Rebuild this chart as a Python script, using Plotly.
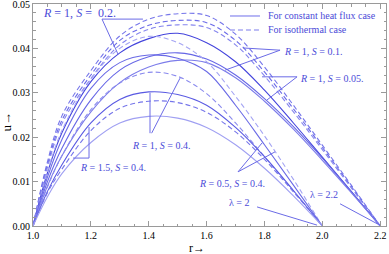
import plotly.graph_objects as go

# ---------------- data ----------------
r_lam22 = [1.0, 1.05, 1.1, 1.2, 1.3, 1.4, 1.5, 1.6, 1.7, 1.8, 1.9, 2.0, 2.1, 2.2]
r_lam20 = [1.0, 1.05, 1.1, 1.2, 1.3, 1.4, 1.5, 1.6, 1.7, 1.8, 1.9, 2.0]

# lambda = 2.2, R = 1
iso_S020 = [0, 0.0145, 0.0248, 0.0350, 0.0428, 0.0466, 0.0478, 0.0474, 0.0432, 0.0358, 0.0272, 0.0182, 0.0092, 0]
iso_S010 = [0, 0.0138, 0.0238, 0.0340, 0.0418, 0.0452, 0.0463, 0.0458, 0.0418, 0.0347, 0.0264, 0.0177, 0.0089, 0]
iso_S005 = [0, 0.0132, 0.0230, 0.0332, 0.0408, 0.0443, 0.0453, 0.0447, 0.0408, 0.0338, 0.0257, 0.0172, 0.0086, 0]
flux_S020 = [0, 0.0120, 0.0210, 0.0325, 0.0390, 0.0422, 0.0434, 0.0413, 0.0370, 0.0306, 0.0232, 0.0155, 0.0078, 0]
flux_S010 = [0, 0.0100, 0.0175, 0.0284, 0.0351, 0.0381, 0.0390, 0.0376, 0.0340, 0.0287, 0.0224, 0.0153, 0.0077, 0]
flux_S005 = [0, 0.0090, 0.0158, 0.0257, 0.0323, 0.0358, 0.0373, 0.0368, 0.0334, 0.0281, 0.0218, 0.0148, 0.0075, 0]

# lambda = 2, S = 0.4
iso_R05 = [0, 0.0122, 0.0215, 0.0330, 0.0400, 0.0427, 0.0413, 0.0370, 0.0292, 0.0203, 0.0105, 0]
flux_R05 = [0, 0.0110, 0.0195, 0.0310, 0.0368, 0.0385, 0.0378, 0.0348, 0.0272, 0.0183, 0.0092, 0]
iso_R10 = [0, 0.0088, 0.0158, 0.0262, 0.0322, 0.0346, 0.0337, 0.0298, 0.0232, 0.0156, 0.0079, 0]
flux_R10 = [0, 0.0078, 0.0138, 0.0232, 0.0285, 0.0302, 0.0296, 0.0272, 0.0222, 0.0156, 0.0080, 0]
iso_R15 = [0, 0.0075, 0.0128, 0.0215, 0.0265, 0.0281, 0.0278, 0.0256, 0.0212, 0.0150, 0.0077, 0]
flux_R15 = [0, 0.0066, 0.0118, 0.0188, 0.0232, 0.0247, 0.0243, 0.0222, 0.0183, 0.0130, 0.0068, 0]

x_ticks = [1.0, 1.2, 1.4, 1.6, 1.8, 2.0, 2.2]
y_ticks = [0.00, 0.01, 0.02, 0.03, 0.04, 0.05]

# ---------------- styling ----------------
SERIF = "Liberation Serif"
TXT = "#4b4bd8"
PTR = "#6b6be6"

series = [
    (r_lam22, iso_S020, "#7676ea", "dash"),
    (r_lam22, iso_S010, "#6a6ae8", "dash"),
    (r_lam22, iso_S005, "#8585ee", "dash"),
    (r_lam22, flux_S020, "#4343dc", "solid"),
    (r_lam22, flux_S010, "#6666e6", "solid"),
    (r_lam22, flux_S005, "#7c7cea", "solid"),
    (r_lam20, iso_R05, "#a4a4f3", "dash"),
    (r_lam20, flux_R05, "#6a6ae6", "solid"),
    (r_lam20, iso_R10, "#8a8aee", "dash"),
    (r_lam20, flux_R10, "#5959e2", "solid"),
    (r_lam20, iso_R15, "#7575ea", "dash"),
    (r_lam20, flux_R15, "#a0a0f2", "solid"),
]

fig = go.Figure()
for xs, ys, col, dash in series:
    fig.add_trace(go.Scatter(
        x=xs, y=ys, mode="lines",
        line=dict(color=col, width=1.1, dash=("5px,3px" if dash == "dash" else "solid"),
                  shape="spline", smoothing=1.0),
        showlegend=False, hoverinfo="skip"))

# pointer lines (data coordinates)
pointers = [
    (1.2385, 0.0466, 1.380, 0.0466),
    (1.2385, 0.0466, 1.2938, 0.0387),
    (1.8538, 0.0396, 1.7259, 0.0401),
    (1.8538, 0.0396, 1.6637, 0.0351),
    (1.9126, 0.0336, 1.7916, 0.0336),
    (1.9126, 0.0336, 1.8089, 0.0284),
    (1.4044, 0.0209, 1.4044, 0.0300),
    (1.4100, 0.0209, 1.5081, 0.0333),
    (1.1936, 0.0223, 1.1936, 0.0153),
    (1.1383, 0.0153, 1.1936, 0.0153),
    (1.7086, 0.0122, 1.7916, 0.0187),
    (1.7086, 0.0122, 1.8365, 0.0167),
    (1.7743, 0.0043, 1.9817, 0.0002),
    (2.0612, 0.0050, 2.1926, 0.0004),
]
for x0, y0, x1, y1 in pointers:
    fig.add_shape(type="line", xref="x", yref="y", x0=x0, y0=y0, x1=x1, y1=y1,
                  line=dict(color=PTR, width=1))

def lab(x, y, text, size=10):
    fig.add_annotation(x=x, y=y, xref="x", yref="y", text=text, showarrow=False,
                       xanchor="left", yanchor="middle",
                       font=dict(family=SERIF, size=size, color=TXT))

lab(1.029, 0.0480, "<i>R</i> = 1, <i>S</i> =  0.2.", 12)
lab(1.8607, 0.0394, "<i>R</i> = 1, <i>S</i> = 0.1.")
lab(1.9160, 0.0333, "<i>R</i> = 1, <i>S</i> = 0.05.")
lab(1.3353, 0.0182, "<i>R</i> = 1, <i>S</i> = 0.4.")
lab(1.1555, 0.0131, "<i>R</i> = 1.5, <i>S</i> = 0.4.")
lab(1.5669, 0.0095, "<i>R</i> = 0.5, <i>S</i> = 0.4.")
lab(1.6706, 0.0052, "λ = 2")
lab(1.9506, 0.0070, "λ = 2.2")

# legend (drawn in paper coordinates)
fig.add_shape(type="line", xref="paper", yref="paper", x0=0.558, x1=0.643, y0=0.946, y1=0.946,
              line=dict(color="#7c7cec", width=1.1))
fig.add_shape(type="line", xref="paper", yref="paper", x0=0.558, x1=0.643, y0=0.883, y1=0.883,
              line=dict(color="#7c7cec", width=1.1, dash="5px,3px"))
fig.add_annotation(xref="paper", yref="paper", x=0.660, y=0.946, text="For constant heat flux case",
                   showarrow=False, xanchor="left", yanchor="middle",
                   font=dict(family=SERIF, size=10, color=TXT))
fig.add_annotation(xref="paper", yref="paper", x=0.660, y=0.883, text="For isothermal case",
                   showarrow=False, xanchor="left", yanchor="middle",
                   font=dict(family=SERIF, size=10, color=TXT))

# axis titles
fig.add_annotation(xref="paper", yref="paper", x=-0.074, y=0.47, text="u→", textangle=-90,
                   showarrow=False, xanchor="center", yanchor="middle",
                   font=dict(family=SERIF, size=13, color="black"))
fig.add_annotation(xref="paper", yref="paper", x=0.466, y=-0.097, text="r→",
                   showarrow=False, xanchor="center", yanchor="middle",
                   font=dict(family=SERIF, size=12, color="black"))

axis_common = dict(showgrid=False, zeroline=False, showline=True, linecolor="#9a9a9a",
                   linewidth=1, mirror="ticks", ticks="inside", ticklen=5, automargin=False,
                   ticklabeloverflow="allow",
                   tickcolor="#9a9a9a", tickfont=dict(family=SERIF, size=10, color="black"))

fig.update_xaxes(range=[1.0, 2.22], tickvals=x_ticks, ticktext=[f"{v:.1f}" for v in x_ticks],
                 minor=dict(dtick=0.05, tick0=1.0, ticks="inside", ticklen=2.5, tickcolor="#9a9a9a"),
                 **axis_common)
fig.update_yaxes(range=[0, 0.05], tickvals=y_ticks, ticktext=[f"{v:.2f}" for v in y_ticks],
                 minor=dict(dtick=0.002, tick0=0, ticks="inside", ticklen=2.5, tickcolor="#9a9a9a"),
                 **axis_common)

fig.update_layout(width=389, height=254, margin=dict(l=33, r=3, t=4, b=28, autoexpand=False),
                  paper_bgcolor="white", plot_bgcolor="white", showlegend=False)

fig.write_html("out.html", config={"displayModeBar": False},
               post_script="document.body.style.margin='0px';")
